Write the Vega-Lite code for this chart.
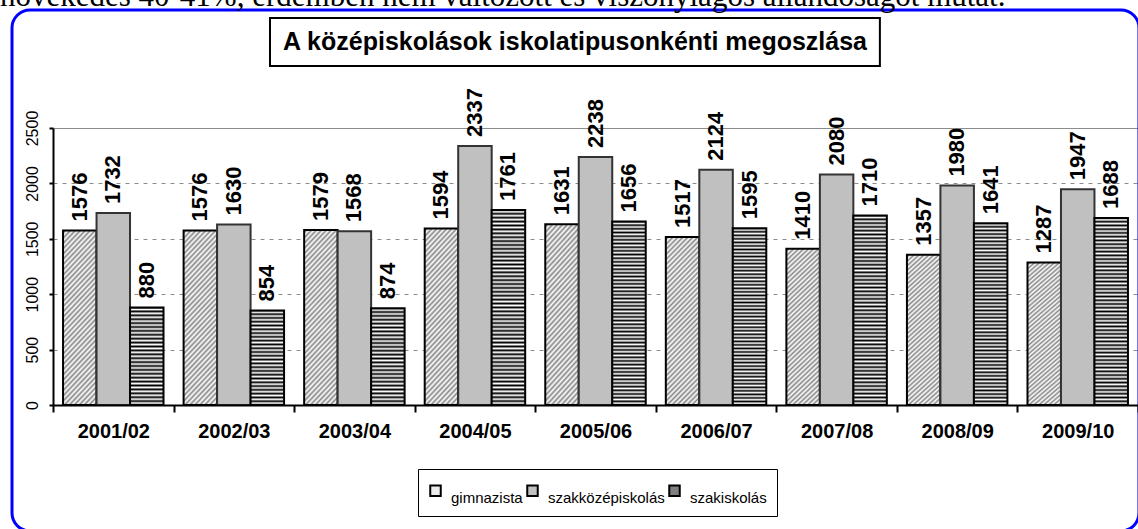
{
"$schema": "https://vega.github.io/schema/vega-lite/v6.json",
"width": 1085, "height": 277,
"autosize": {"type": "none"},
"padding": {"left": 53, "top": 128, "right": 0, "bottom": 124},
"background": "#ffffff",
"data": {"values": [
{"year": "2001/02", "type": "gimnazista", "value": 1576},
{"year": "2001/02", "type": "szakközépiskolás", "value": 1732},
{"year": "2001/02", "type": "szakiskolás", "value": 880},
{"year": "2002/03", "type": "gimnazista", "value": 1576},
{"year": "2002/03", "type": "szakközépiskolás", "value": 1630},
{"year": "2002/03", "type": "szakiskolás", "value": 854},
{"year": "2003/04", "type": "gimnazista", "value": 1579},
{"year": "2003/04", "type": "szakközépiskolás", "value": 1568},
{"year": "2003/04", "type": "szakiskolás", "value": 874},
{"year": "2004/05", "type": "gimnazista", "value": 1594},
{"year": "2004/05", "type": "szakközépiskolás", "value": 2337},
{"year": "2004/05", "type": "szakiskolás", "value": 1761},
{"year": "2005/06", "type": "gimnazista", "value": 1631},
{"year": "2005/06", "type": "szakközépiskolás", "value": 2238},
{"year": "2005/06", "type": "szakiskolás", "value": 1656},
{"year": "2006/07", "type": "gimnazista", "value": 1517},
{"year": "2006/07", "type": "szakközépiskolás", "value": 2124},
{"year": "2006/07", "type": "szakiskolás", "value": 1595},
{"year": "2007/08", "type": "gimnazista", "value": 1410},
{"year": "2007/08", "type": "szakközépiskolás", "value": 2080},
{"year": "2007/08", "type": "szakiskolás", "value": 1710},
{"year": "2008/09", "type": "gimnazista", "value": 1357},
{"year": "2008/09", "type": "szakközépiskolás", "value": 1980},
{"year": "2008/09", "type": "szakiskolás", "value": 1641},
{"year": "2009/10", "type": "gimnazista", "value": 1287},
{"year": "2009/10", "type": "szakközépiskolás", "value": 1947},
{"year": "2009/10", "type": "szakiskolás", "value": 1688}
]},
"layer": [
{
"data": {"values": [{}]},
"mark": {"type": "rect", "fill": "transparent", "stroke": "#0000ff", "strokeWidth": 3, "cornerRadius": 18},
"encoding": {
"x": {"datum": "2001/02", "type": "nominal", "bandPosition": -0.34, "title": null},
"x2": {"datum": "2009/10", "bandPosition": 1.008},
"y": {"datum": 3565, "type": "quantitative", "scale": {"domain": [0, 2500], "nice": false}, "title": null},
"y2": {"datum": -1137}
}
},
{
"data": {"values": [{}]},
"mark": {"type": "text", "text": "növekedés 40-41%, érdemben nem változott és viszonylagos állandóságot mutat.", "font": "Liberation Serif", "fontSize": 31, "align": "left", "baseline": "alphabetic", "color": "#000"},
"encoding": {
"x": {"datum": "2001/02", "type": "nominal", "bandPosition": -0.44, "title": null},
"y": {"datum": 3601, "type": "quantitative", "scale": {"domain": [0, 2500], "nice": false}, "title": null}
}
},
{
"data": {"values": [{}]},
"mark": {"type": "rect", "fill": "#ffffff", "stroke": "#000000", "strokeWidth": 2},
"encoding": {
"x": {"datum": "2002/03", "type": "nominal", "bandPosition": 0.8, "title": null},
"x2": {"datum": "2007/08", "bandPosition": 0.859},
"y": {"datum": 3493, "type": "quantitative", "scale": {"domain": [0, 2500], "nice": false}, "title": null},
"y2": {"datum": 3060}
}
},
{
"data": {"values": [{}]},
"mark": {"type": "text", "text": "A középiskolások iskolatipusonkénti megoszlása", "font": "Liberation Sans", "fontSize": 25, "fontWeight": "bold", "align": "center", "baseline": "middle", "color": "#000"},
"encoding": {
"x": {"datum": "2005/06", "type": "nominal", "bandPosition": 0.33, "title": null},
"y": {"datum": 3276, "type": "quantitative", "scale": {"domain": [0, 2500], "nice": false}, "title": null}
}
},
{
"mark": {"type": "bar"},
"encoding": {
"x": {"field": "year", "type": "nominal", "title": null, "scale": {"paddingInner": 0, "paddingOuter": 0},
"axis": {"title": null, "bandPosition": 0.5, "domainColor": "#000", "domainWidth": 2, "tickColor": "#000", "tickWidth": 2, "tickSize": 7, "tickBand": "extent", "labelFont": "Liberation Sans", "labelFontSize": 20, "labelFontWeight": "bold", "labelColor": "#000", "labelPadding": 19, "labelAngle": 0, "labelAlign": "center", "grid": false}},
"xOffset": {"field": "type", "type": "nominal", "scale": {"domain": ["gimnazista", "szakközépiskolás", "szakiskolás"], "paddingInner": 0, "paddingOuter": 0.3}},
"y": {"field": "value", "type": "quantitative", "title": null, "scale": {"domain": [0, 2500], "nice": false},
"axis": {"title": null, "values": [0, 500, 1000, 1500, 2000, 2500], "format": "d", "domainColor": "#000", "domainWidth": 2, "tickColor": "#000", "tickWidth": 2, "tickSize": 4, "labelFont": "Liberation Sans", "labelFontSize": 16, "labelColor": "#000", "labelAngle": 270, "labelAlign": "center", "labelBaseline": "alphabetic", "labelPadding": 12, "grid": true, "gridColor": "#8c8c8c", "gridWidth": 1, "gridDash": {"condition": {"test": "datum.value === 2500", "value": []}, "value": [4, 5]}}},
"color": {"field": "type", "type": "nominal", "scale": {"domain": ["gimnazista", "szakközépiskolás", "szakiskolás"], "range": ["#ececec", "#c0c0c0", "#808080"]},
"legend": {"orient": "none", "legendX": 365, "legendY": 341, "direction": "horizontal", "title": " ", "titleFontSize": 4, "titlePadding": 0, "strokeColor": "#000", "fillColor": "#fff", "padding": 10, "symbolType": "square", "symbolSize": 110, "labelFont": "Liberation Sans", "labelFontSize": 15, "labelColor": "#000", "labelOffset": 8, "columnPadding": 0, "labelBaseline": "top", "symbolStrokeColor": "#000", "symbolStrokeWidth": 2}}
}
},
{
"mark": {"type": "bar", "strokeWidth": 2},
"encoding": {
"x": {"field": "year", "type": "nominal", "title": null},
"xOffset": {"field": "type", "type": "nominal"},
"y": {"field": "value", "type": "quantitative", "title": null},
"fill": {"condition": [
{"test": "datum.type === 'gimnazista'", "value": {"gradient": "linear", "x1": 0, "y1": 0, "x2": 0.235, "y2": 1.156, "stops": [
{"offset": 0, "color": "#fff"},{"offset": 0.0125, "color": "#888"},{"offset": 0.025, "color": "#fff"},{"offset": 0.0375, "color": "#888"},{"offset": 0.05, "color": "#fff"},{"offset": 0.0625, "color": "#888"},{"offset": 0.075, "color": "#fff"},{"offset": 0.0875, "color": "#888"},{"offset": 0.1, "color": "#fff"},{"offset": 0.1125, "color": "#888"},{"offset": 0.125, "color": "#fff"},{"offset": 0.1375, "color": "#888"},{"offset": 0.15, "color": "#fff"},{"offset": 0.1625, "color": "#888"},{"offset": 0.175, "color": "#fff"},{"offset": 0.1875, "color": "#888"},{"offset": 0.2, "color": "#fff"},{"offset": 0.2125, "color": "#888"},{"offset": 0.225, "color": "#fff"},{"offset": 0.2375, "color": "#888"},{"offset": 0.25, "color": "#fff"},{"offset": 0.2625, "color": "#888"},{"offset": 0.275, "color": "#fff"},{"offset": 0.2875, "color": "#888"},{"offset": 0.3, "color": "#fff"},{"offset": 0.3125, "color": "#888"},{"offset": 0.325, "color": "#fff"},{"offset": 0.3375, "color": "#888"},{"offset": 0.35, "color": "#fff"},{"offset": 0.3625, "color": "#888"},{"offset": 0.375, "color": "#fff"},{"offset": 0.3875, "color": "#888"},{"offset": 0.4, "color": "#fff"},{"offset": 0.4125, "color": "#888"},{"offset": 0.425, "color": "#fff"},{"offset": 0.4375, "color": "#888"},{"offset": 0.45, "color": "#fff"},{"offset": 0.4625, "color": "#888"},{"offset": 0.475, "color": "#fff"},{"offset": 0.4875, "color": "#888"},{"offset": 0.5, "color": "#fff"},{"offset": 0.5125, "color": "#888"},{"offset": 0.525, "color": "#fff"},{"offset": 0.5375, "color": "#888"},{"offset": 0.55, "color": "#fff"},{"offset": 0.5625, "color": "#888"},{"offset": 0.575, "color": "#fff"},{"offset": 0.5875, "color": "#888"},{"offset": 0.6, "color": "#fff"},{"offset": 0.6125, "color": "#888"},{"offset": 0.625, "color": "#fff"},{"offset": 0.6375, "color": "#888"},{"offset": 0.65, "color": "#fff"},{"offset": 0.6625, "color": "#888"},{"offset": 0.675, "color": "#fff"},{"offset": 0.6875, "color": "#888"},{"offset": 0.7, "color": "#fff"},{"offset": 0.7125, "color": "#888"},{"offset": 0.725, "color": "#fff"},{"offset": 0.7375, "color": "#888"},{"offset": 0.75, "color": "#fff"},{"offset": 0.7625, "color": "#888"},{"offset": 0.775, "color": "#fff"},{"offset": 0.7875, "color": "#888"},{"offset": 0.8, "color": "#fff"},{"offset": 0.8125, "color": "#888"},{"offset": 0.825, "color": "#fff"},{"offset": 0.8375, "color": "#888"},{"offset": 0.85, "color": "#fff"},{"offset": 0.8625, "color": "#888"},{"offset": 0.875, "color": "#fff"},{"offset": 0.8875, "color": "#888"},{"offset": 0.9, "color": "#fff"},{"offset": 0.9125, "color": "#888"},{"offset": 0.925, "color": "#fff"},{"offset": 0.9375, "color": "#888"},{"offset": 0.95, "color": "#fff"},{"offset": 0.9625, "color": "#888"},{"offset": 0.975, "color": "#fff"},{"offset": 0.9875, "color": "#888"},{"offset": 1, "color": "#fff"}]}},
{"test": "datum.type === 'szakiskolás' && datum.value < 1200", "value": {"gradient": "linear", "x1": 0, "y1": 0, "x2": 0, "y2": 1, "stops": [
{"offset": 0, "color": "#000"},{"offset": 0.02, "color": "#fff"},{"offset": 0.04, "color": "#000"},{"offset": 0.06, "color": "#fff"},{"offset": 0.08, "color": "#000"},{"offset": 0.1, "color": "#fff"},{"offset": 0.12, "color": "#000"},{"offset": 0.14, "color": "#fff"},{"offset": 0.16, "color": "#000"},{"offset": 0.18, "color": "#fff"},{"offset": 0.2, "color": "#000"},{"offset": 0.22, "color": "#fff"},{"offset": 0.24, "color": "#000"},{"offset": 0.26, "color": "#fff"},{"offset": 0.28, "color": "#000"},{"offset": 0.3, "color": "#fff"},{"offset": 0.32, "color": "#000"},{"offset": 0.34, "color": "#fff"},{"offset": 0.36, "color": "#000"},{"offset": 0.38, "color": "#fff"},{"offset": 0.4, "color": "#000"},{"offset": 0.42, "color": "#fff"},{"offset": 0.44, "color": "#000"},{"offset": 0.46, "color": "#fff"},{"offset": 0.48, "color": "#000"},{"offset": 0.5, "color": "#fff"},{"offset": 0.52, "color": "#000"},{"offset": 0.54, "color": "#fff"},{"offset": 0.56, "color": "#000"},{"offset": 0.58, "color": "#fff"},{"offset": 0.6, "color": "#000"},{"offset": 0.62, "color": "#fff"},{"offset": 0.64, "color": "#000"},{"offset": 0.66, "color": "#fff"},{"offset": 0.68, "color": "#000"},{"offset": 0.7, "color": "#fff"},{"offset": 0.72, "color": "#000"},{"offset": 0.74, "color": "#fff"},{"offset": 0.76, "color": "#000"},{"offset": 0.78, "color": "#fff"},{"offset": 0.8, "color": "#000"},{"offset": 0.82, "color": "#fff"},{"offset": 0.84, "color": "#000"},{"offset": 0.86, "color": "#fff"},{"offset": 0.88, "color": "#000"},{"offset": 0.9, "color": "#fff"},{"offset": 0.92, "color": "#000"},{"offset": 0.94, "color": "#fff"},{"offset": 0.96, "color": "#000"},{"offset": 0.98, "color": "#fff"},{"offset": 1, "color": "#000"}]}},
{"test": "datum.type === 'szakiskolás'", "value": {"gradient": "linear", "x1": 0, "y1": 0, "x2": 0, "y2": 1, "stops": [
{"offset": 0, "color": "#000"},{"offset": 0.01, "color": "#fff"},{"offset": 0.02, "color": "#000"},{"offset": 0.03, "color": "#fff"},{"offset": 0.04, "color": "#000"},{"offset": 0.05, "color": "#fff"},{"offset": 0.06, "color": "#000"},{"offset": 0.07, "color": "#fff"},{"offset": 0.08, "color": "#000"},{"offset": 0.09, "color": "#fff"},{"offset": 0.1, "color": "#000"},{"offset": 0.11, "color": "#fff"},{"offset": 0.12, "color": "#000"},{"offset": 0.13, "color": "#fff"},{"offset": 0.14, "color": "#000"},{"offset": 0.15, "color": "#fff"},{"offset": 0.16, "color": "#000"},{"offset": 0.17, "color": "#fff"},{"offset": 0.18, "color": "#000"},{"offset": 0.19, "color": "#fff"},{"offset": 0.2, "color": "#000"},{"offset": 0.21, "color": "#fff"},{"offset": 0.22, "color": "#000"},{"offset": 0.23, "color": "#fff"},{"offset": 0.24, "color": "#000"},{"offset": 0.25, "color": "#fff"},{"offset": 0.26, "color": "#000"},{"offset": 0.27, "color": "#fff"},{"offset": 0.28, "color": "#000"},{"offset": 0.29, "color": "#fff"},{"offset": 0.3, "color": "#000"},{"offset": 0.31, "color": "#fff"},{"offset": 0.32, "color": "#000"},{"offset": 0.33, "color": "#fff"},{"offset": 0.34, "color": "#000"},{"offset": 0.35, "color": "#fff"},{"offset": 0.36, "color": "#000"},{"offset": 0.37, "color": "#fff"},{"offset": 0.38, "color": "#000"},{"offset": 0.39, "color": "#fff"},{"offset": 0.4, "color": "#000"},{"offset": 0.41, "color": "#fff"},{"offset": 0.42, "color": "#000"},{"offset": 0.43, "color": "#fff"},{"offset": 0.44, "color": "#000"},{"offset": 0.45, "color": "#fff"},{"offset": 0.46, "color": "#000"},{"offset": 0.47, "color": "#fff"},{"offset": 0.48, "color": "#000"},{"offset": 0.49, "color": "#fff"},{"offset": 0.5, "color": "#000"},{"offset": 0.51, "color": "#fff"},{"offset": 0.52, "color": "#000"},{"offset": 0.53, "color": "#fff"},{"offset": 0.54, "color": "#000"},{"offset": 0.55, "color": "#fff"},{"offset": 0.56, "color": "#000"},{"offset": 0.57, "color": "#fff"},{"offset": 0.58, "color": "#000"},{"offset": 0.59, "color": "#fff"},{"offset": 0.6, "color": "#000"},{"offset": 0.61, "color": "#fff"},{"offset": 0.62, "color": "#000"},{"offset": 0.63, "color": "#fff"},{"offset": 0.64, "color": "#000"},{"offset": 0.65, "color": "#fff"},{"offset": 0.66, "color": "#000"},{"offset": 0.67, "color": "#fff"},{"offset": 0.68, "color": "#000"},{"offset": 0.69, "color": "#fff"},{"offset": 0.7, "color": "#000"},{"offset": 0.71, "color": "#fff"},{"offset": 0.72, "color": "#000"},{"offset": 0.73, "color": "#fff"},{"offset": 0.74, "color": "#000"},{"offset": 0.75, "color": "#fff"},{"offset": 0.76, "color": "#000"},{"offset": 0.77, "color": "#fff"},{"offset": 0.78, "color": "#000"},{"offset": 0.79, "color": "#fff"},{"offset": 0.8, "color": "#000"},{"offset": 0.81, "color": "#fff"},{"offset": 0.82, "color": "#000"},{"offset": 0.83, "color": "#fff"},{"offset": 0.84, "color": "#000"},{"offset": 0.85, "color": "#fff"},{"offset": 0.86, "color": "#000"},{"offset": 0.87, "color": "#fff"},{"offset": 0.88, "color": "#000"},{"offset": 0.89, "color": "#fff"},{"offset": 0.9, "color": "#000"},{"offset": 0.91, "color": "#fff"},{"offset": 0.92, "color": "#000"},{"offset": 0.93, "color": "#fff"},{"offset": 0.94, "color": "#000"},{"offset": 0.95, "color": "#fff"},{"offset": 0.96, "color": "#000"},{"offset": 0.97, "color": "#fff"},{"offset": 0.98, "color": "#000"},{"offset": 0.99, "color": "#fff"},{"offset": 1, "color": "#000"}]}}
], "value": "#c0c0c0"},
"stroke": {"condition": {"test": "datum.type === 'szakközépiskolás'", "value": "#333333"}, "value": "#000000"}
}
},
{
"mark": {"type": "text", "angle": 270, "align": "left", "baseline": "middle", "dx": 9, "font": "Liberation Sans", "fontSize": 22, "fontWeight": "bold", "color": "#000"},
"encoding": {
"x": {"field": "year", "type": "nominal", "title": null},
"xOffset": {"field": "type", "type": "nominal"},
"y": {"field": "value", "type": "quantitative", "title": null},
"text": {"field": "value", "type": "quantitative", "format": "d"}
}
}
],
"config": {"view": {"stroke": null}, "font": "Liberation Sans"}
}
